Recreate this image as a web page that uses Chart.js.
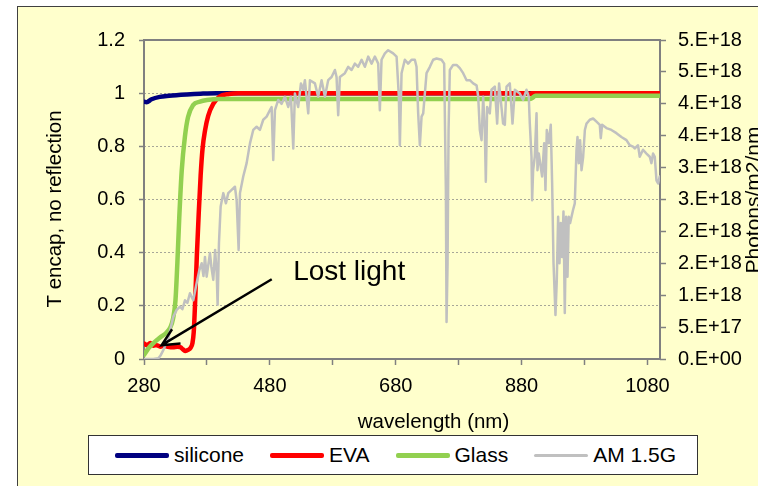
<!DOCTYPE html>
<html>
<head>
<meta charset="utf-8">
<title>T encap vs AM 1.5G</title>
<script src="https://cdn.jsdelivr.net/npm/chart.js@4.4.0/dist/chart.umd.min.js"></script>
<style>
  html, body { margin: 0; padding: 0; background: #fff; }
  #wrap { position: relative; width: 758px; height: 486px; overflow: hidden; font-family: 'Liberation Sans', Arial, sans-serif; }
  #frame { position: absolute; left: 17px; top: 6px; width: 800px; height: 600px; background: #ffffcc; border-left: 1px solid #404040; border-top: 1px solid #404040; }
  #chart { position: absolute; left: 0; top: 0; }
  #legend { position: absolute; left: 88px; top: 435px; width: 610px; height: 40px; box-sizing: border-box; background: #fff; border: 1px solid #333; display: flex; align-items: center; padding-left: 26px; font-size: 21px; color: #000; white-space: nowrap; overflow: hidden; }
  .item { display: flex; align-items: center; margin-right: 26px; flex-shrink: 0; }
  .swatch { width: 54px; margin-right: 5px; border-radius: 2px; flex-shrink: 0; }
</style>
</head>
<body>
<div id="wrap">
  <div id="frame"></div>
  <canvas id="chart" width="758" height="486"></canvas>
  <div id="legend"></div>
</div>
<script>
// Axis ticks and labels
const xTicks = [280, 380, 480, 580, 680, 780, 880, 980, 1080];
const xTickLabels = ['280', '', '480', '', '680', '', '880', '', '1080'];
const leftTickLabels = ['0', '0.2', '0.4', '0.6', '0.8', '1', '1.2'];
const rightTickLabels = ['0.E+00', '5.E+17', '1.E+18', '2.E+18', '2.E+18', '3.E+18', '3.E+18', '4.E+18', '4.E+18', '5.E+18', '5.E+18'];

const xTitle = 'wavelength (nm)';
const yTitle = 'T encap, no reflection';
const y1Title = 'Photons/m2/nm';

// Transmission curves (left axis)
const siliconeNm = [280, 284, 292, 305, 320, 348, 370, 395, 1100];
const siliconeT = [0.968, 0.966, 0.977, 0.986, 0.990, 0.995, 0.998, 1.0, 1.0];

const evaNm = [280, 285, 290, 295, 300, 306, 311, 318, 326, 333, 338, 342, 346, 350, 354, 357, 359, 361, 364, 367, 370, 373, 377, 382, 390, 400, 415, 430, 890, 893, 896, 1100];
const evaT = [0.058, 0.052, 0.060, 0.050, 0.052, 0.046, 0.050, 0.046, 0.044, 0.046, 0.044, 0.036, 0.030, 0.034, 0.042, 0.060, 0.100, 0.200, 0.390, 0.550, 0.690, 0.790, 0.860, 0.915, 0.960, 0.987, 0.997, 1.0, 1.0, 0.996, 1.0, 1.0];

const glassNm = [280, 287, 295, 305, 316, 322, 326, 330, 333, 336, 340, 345, 350, 358, 369, 380, 400, 500, 893, 897, 902, 1100];
const glassT = [0.015, 0.040, 0.060, 0.080, 0.100, 0.120, 0.150, 0.220, 0.360, 0.530, 0.710, 0.836, 0.910, 0.955, 0.968, 0.974, 0.978, 0.978, 0.978, 0.982, 0.990, 0.990];

// AM 1.5G photon flux (right axis), in units of 1e18 photons/m2/nm
const amNm = [280, 295, 302.7, 306, 310.7, 318.6, 326.5, 331.9, 337.2, 341, 345.1, 349, 353, 358.3, 363.7, 367.9, 371.6, 374.5, 376.9, 379.6,
  384.8, 387, 390.1, 393, 395.5, 397, 399.1, 401.8, 406, 410.2, 413.9, 419.3, 424.5, 427.2, 430.4, 432.5, 437.7, 443.1, 448.4, 453.6,
  459, 464.2, 469.5, 474.9, 480.1, 482.8, 485.4, 488.1, 493.3, 498.7, 504, 509.2, 513.5, 517.2, 519.8, 525, 529.4, 533.1, 535.7, 541,
  543.7, 551.6, 556.8, 562.2, 567.5, 572.7, 578.1, 583.4, 586, 588.6, 591.3, 599.2, 604.5, 609.9, 615.1, 620.4, 625.8, 631, 636.3, 641.7,
  646.9, 652.2, 654.8, 657.5, 662.8, 668, 676, 681.4, 685, 686.6, 689.3, 694.5, 699.8, 705.2, 710.4, 713.1, 715.7, 718.4, 721.1, 723.7,
  726.3, 729, 734.3, 739.5, 744.9, 752.8, 757, 759.7, 760.8, 762.4, 764, 766, 771.3, 776.7, 781.9, 787.2, 792.6, 797.8, 803.1, 808.5,
  811.1, 813.7, 816.4, 819, 821.6, 823.2, 825.3, 829.5, 832.2, 837.5, 841.2, 844.3, 850.7, 853.4, 856.1, 861.3, 865.6, 869.3, 877.2, 882.5,
  887.9, 891.5, 893.1, 895.8, 896.8, 898.4, 901, 903.8, 905.3, 907.4, 910.5, 912.7, 915.9, 918, 920.1, 923.3, 926.4, 928.6, 930.8, 933.9,
  936, 938.1, 940.3, 942.3, 944.4, 946.6, 948.7, 950.8, 953, 955, 957.1, 959.4, 961.9, 964.6, 967.3, 968.9, 971, 973, 975.3, 977.9,
  980.6, 983.2, 988.4, 993.7, 999.1, 1004.3, 1005.9, 1008, 1014.9, 1022.8, 1030.8, 1038.7, 1046.7, 1051.9, 1057.2, 1059.9, 1065.1, 1067.8, 1073, 1078.5,
  1083.7, 1086.4, 1089, 1091.7, 1094.4, 1097, 1099.5];
const amFluxE18 = [0, 0, 0.01, 0.05, 0.14, 0.32, 0.66, 0.77, 0.82, 0.78, 0.92, 0.88, 1.03, 0.92, 1.19, 1.39, 1.50, 1.30, 1.60, 1.29,
  1.66, 1.45, 1.24, 1.71, 1.35, 0.85, 1.81, 2.39, 2.60, 2.44, 2.60, 2.65, 2.70, 2.49, 1.71, 2.60, 2.86, 3.07, 3.38, 3.59,
  3.64, 3.59, 3.75, 3.80, 3.90, 3.95, 3.12, 3.90, 4.06, 4.00, 4.11, 3.95, 4.11, 3.30, 4.16, 3.95, 4.32, 4.22, 4.37, 3.85,
  4.37, 4.32, 4.11, 4.37, 4.11, 4.37, 4.42, 4.53, 4.42, 3.82, 4.42, 4.48, 4.58, 4.53, 4.63, 4.58, 4.69, 4.58, 4.74, 4.63,
  4.74, 4.63, 3.90, 4.69, 4.79, 4.84, 4.79, 4.74, 4.11, 3.35, 4.48, 4.69, 4.63, 4.69, 4.69, 4.58, 3.85, 3.35, 3.80, 3.85,
  4.16, 4.48, 4.58, 4.69, 4.71, 4.69, 4.63, 2.65, 0.58, 1.50, 3.59, 4.53, 4.61, 4.61, 4.56, 4.48, 4.37, 4.37, 4.32, 4.29,
  4.11, 3.59, 3.43, 4.11, 3.59, 2.78, 3.95, 3.85, 4.22, 4.27, 3.69, 4.32, 3.69, 3.67, 4.27, 4.32, 3.69, 4.22, 4.16, 4.06,
  4.22, 4.11, 3.69, 3.17, 2.49, 2.96, 3.17, 3.85, 2.96, 3.22, 3.01, 2.86, 3.38, 2.65, 3.59, 3.38, 3.67, 2.75, 1.50, 0.69,
  1.24, 2.23, 1.50, 2.13, 1.60, 2.31, 0.72, 2.23, 1.29, 2.23, 2.13, 2.23, 2.34, 2.44, 3.28, 3.48, 3.07, 3.43, 2.96, 3.17,
  3.59, 3.69, 3.75, 3.77, 3.72, 3.67, 3.46, 3.67, 3.62, 3.59, 3.54, 3.48, 3.43, 3.35, 3.33, 3.30, 3.35, 3.17, 3.28, 3.22,
  3.17, 3.07, 3.22, 3.17, 2.80, 2.75, 2.86];

const toPoints = (xs, ys, scale = 1) => xs.map((x, i) => ({ x: x, y: ys[i] * scale }));

const FONT = "'Liberation Sans', Arial, sans-serif";
const tickFont = { family: FONT, size: 20 };

// "Lost light" arrow, anchored in data coordinates
const lostLight = { tipNm: 308, tipT: 0.052, tailNm: 483, tailT: 0.30, textNm: 517, textT: 0.297, text: 'Lost light' };

const overlayPlugin = {
    id: 'overlay',
    beforeDatasetsDraw(chart) {
        const { ctx, chartArea } = chart;
        ctx.save();
        ctx.strokeStyle = '#808080';
        ctx.lineWidth = 2;
        ctx.strokeRect(chartArea.left, chartArea.top, chartArea.right - chartArea.left, chartArea.bottom - chartArea.top);
        ctx.restore();
    },
    afterDraw(chart) {
        const { ctx } = chart;
        const xs = chart.scales.x;
        const ys = chart.scales.y;
        ctx.save();
        ctx.fillStyle = '#000';
        ctx.textAlign = 'center';
        ctx.textBaseline = 'alphabetic';

        // axis titles
        ctx.font = '20.5px ' + FONT;
        ctx.fillText(xTitle, 433.5, 428);
        ctx.save();
        ctx.translate(60.5, 209);
        ctx.rotate(-Math.PI / 2);
        ctx.fillText(yTitle, 0, 0);
        ctx.restore();
        ctx.font = '21px ' + FONT;
        ctx.save();
        ctx.translate(760, 200);
        ctx.rotate(-Math.PI / 2);
        ctx.fillText(y1Title, 0, 0);
        ctx.restore();

        // arrow
        const tx = xs.getPixelForValue(lostLight.tipNm), ty = ys.getPixelForValue(lostLight.tipT);
        const sx = xs.getPixelForValue(lostLight.tailNm), sy = ys.getPixelForValue(lostLight.tailT);
        const ang = Math.atan2(sy - ty, sx - tx);
        const len = 19, spread = 0.45;
        ctx.strokeStyle = '#000';
        ctx.lineWidth = 2.5;
        ctx.beginPath();
        ctx.moveTo(sx, sy);
        ctx.lineTo(tx, ty);
        ctx.moveTo(tx + len * Math.cos(ang - spread), ty + len * Math.sin(ang - spread));
        ctx.lineTo(tx, ty);
        ctx.lineTo(tx + len * Math.cos(ang + spread), ty + len * Math.sin(ang + spread));
        ctx.stroke();

        ctx.font = '28px ' + FONT;
        ctx.textAlign = 'left';
        ctx.fillText(lostLight.text, xs.getPixelForValue(lostLight.textNm), ys.getPixelForValue(lostLight.textT));
        ctx.restore();
    }
};

const lineBase = { pointRadius: 0, borderJoinStyle: 'round', borderCapStyle: 'round', fill: false };

const chart = new Chart(document.getElementById('chart').getContext('2d'), {
    type: 'line',
    data: {
        datasets: [
            { ...lineBase, label: 'silicone', data: toPoints(siliconeNm, siliconeT), borderColor: '#000080', borderWidth: 4.5, cubicInterpolationMode: 'monotone', yAxisID: 'y', order: 4 },
            { ...lineBase, label: 'EVA', data: toPoints(evaNm, evaT), borderColor: '#ff0000', borderWidth: 4.5, cubicInterpolationMode: 'monotone', yAxisID: 'y', order: 3 },
            { ...lineBase, label: 'Glass', data: toPoints(glassNm, glassT), borderColor: '#92d050', borderWidth: 4.5, cubicInterpolationMode: 'monotone', yAxisID: 'y', order: 2 },
            { ...lineBase, label: 'AM 1.5G', data: toPoints(amNm, amFluxE18, 1e18), borderColor: '#c0c0c0', borderWidth: 2.5, tension: 0, yAxisID: 'y1', order: 1 }
        ]
    },
    options: {
        responsive: false,
        animation: false,
        layout: { padding: { left: 0, right: 0, top: 40, bottom: 67 } },
        plugins: { legend: { display: false }, tooltip: { enabled: false } },
        scales: {
            x: {
                type: 'linear', min: 280, max: 1100,
                afterBuildTicks: (scale) => { scale.ticks = xTicks.map(v => ({ value: v })); },
                afterFit: (scale) => { scale.height = 60; },
                ticks: { autoSkip: false, maxRotation: 0, padding: 9, color: '#000', font: tickFont, callback: (v, i) => xTickLabels[i] },
                grid: { drawOnChartArea: false, tickLength: 6, tickColor: '#808080', tickWidth: 1.5, color: '#808080' },
                border: { display: false }
            },
            y: {
                position: 'left', min: 0, max: 1.2,
                afterFit: (scale) => { scale.width = 144; },
                ticks: { stepSize: 0.2, padding: 14, color: '#000', font: tickFont, callback: (v, i) => leftTickLabels[i] },
                grid: { color: 'rgba(130,130,130,0.7)', lineWidth: 1, tickLength: 5, tickColor: '#808080', tickWidth: 1.5, tickBorderDash: [] },
                border: { display: false, dash: [2, 2] }
            },
            y1: {
                position: 'right', min: 0, max: 5e18,
                afterFit: (scale) => { scale.width = 98; },
                ticks: { stepSize: 5e17, padding: 12, color: '#000', font: tickFont, callback: (v, i) => rightTickLabels[i] },
                grid: { drawOnChartArea: false, tickLength: 6, tickColor: '#808080', tickWidth: 1.5 },
                border: { display: false }
            }
        }
    },
    plugins: [overlayPlugin]
});

// HTML legend
const legendEl = document.getElementById('legend');
chart.data.datasets.forEach(ds => {
    const item = document.createElement('div');
    item.className = 'item';
    const sw = document.createElement('span');
    sw.className = 'swatch';
    sw.style.background = ds.borderColor;
    sw.style.height = ds.borderWidth > 3 ? '5px' : '3px';
    const label = document.createElement('span');
    label.textContent = ds.label;
    item.appendChild(sw);
    item.appendChild(label);
    legendEl.appendChild(item);
});
</script>
</body>
</html>
